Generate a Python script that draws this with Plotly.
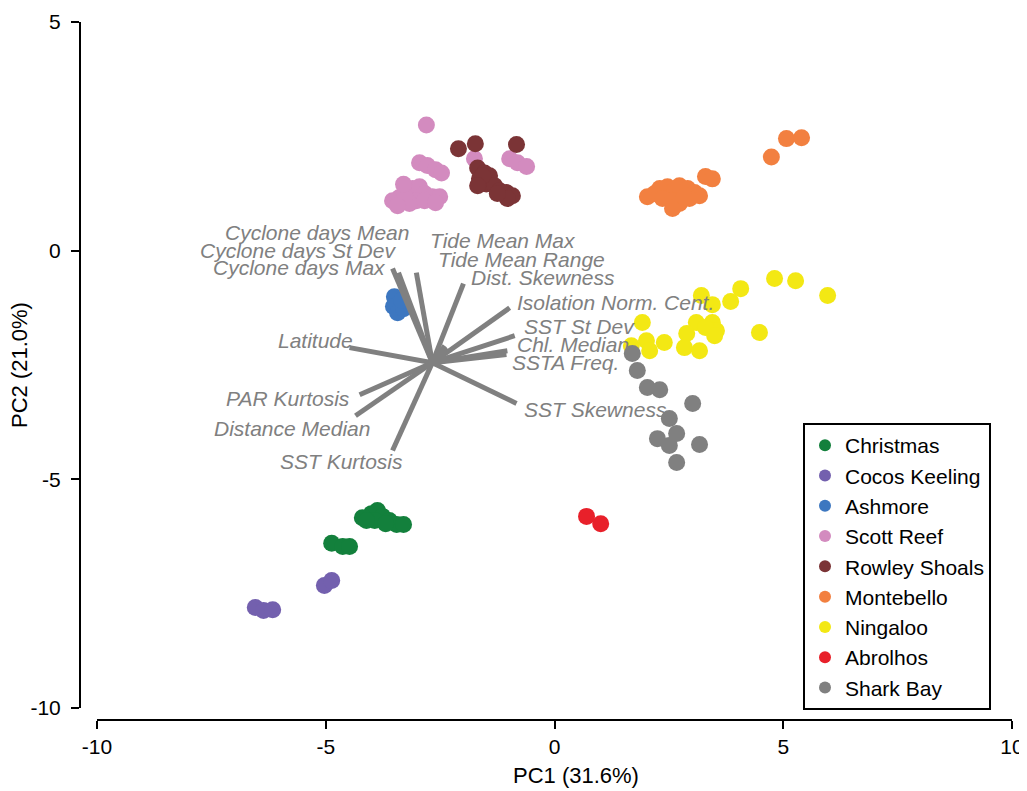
import plotly.graph_objects as go

# ---------------- data (PC scores) ----------------
sites = ["Christmas", "Cocos Keeling", "Ashmore", "Scott Reef", "Rowley Shoals",
         "Montebello", "Ningaloo", "Abrolhos", "Shark Bay"]
colors = ["#13803C", "#7360AE", "#3D77C0", "#D38BBF", "#7B3436",
          "#F28040", "#F3E814", "#E8202A", "#808080"]

christmas_x = [-4.20, -4.00, -3.87, -3.76, -3.61, -3.45, -3.30, -3.93, -3.69, -4.11, -4.87, -4.63, -4.48]
christmas_y = [-5.84, -5.75, -5.68, -5.81, -5.90, -5.99, -5.99, -5.90, -5.97, -5.90, -6.40, -6.47, -6.47]

cocos_x = [-5.03, -4.87, -6.54, -6.36, -6.16]
cocos_y = [-7.32, -7.21, -7.80, -7.87, -7.85]

ashmore_x = [-3.50, -3.52, -3.43, -3.30, -3.34]
ashmore_y = [-1.01, -1.22, -1.36, -1.27, -1.09]

scott_x = [-2.80, -2.95, -2.78, -2.60, -2.47, -3.54, -3.39, -3.23, -3.10, -2.95, -2.84, -2.67,
           -2.51, -3.02, -3.17, -3.28, -3.43, -2.84, -1.75, -0.98, -0.81, -0.61, -3.30, -2.60]
scott_y = [2.75, 1.92, 1.86, 1.77, 1.70, 1.09, 1.16, 1.27, 1.36, 1.40, 1.25, 1.18,
           1.18, 1.09, 1.03, 1.20, 0.98, 1.09, 2.01, 2.01, 1.92, 1.84, 1.45, 1.05]

rowley_x = [-2.10, -1.73, -0.83, -1.68, -1.53, -1.42, -1.64, -1.49, -1.31, -1.20, -1.05,
            -0.92, -1.03, -1.25, -1.57, -1.68]
rowley_y = [2.23, 2.34, 2.32, 1.81, 1.70, 1.64, 1.57, 1.46, 1.42, 1.31, 1.27,
            1.20, 1.14, 1.25, 1.64, 1.42]

montebello_x = [2.03, 2.19, 2.30, 2.47, 2.62, 2.73, 2.91, 3.06, 3.17, 2.36, 2.56, 2.73, 2.58,
                2.95, 2.84, 3.30, 3.45, 4.74, 5.07, 5.40]
montebello_y = [1.18, 1.25, 1.36, 1.40, 1.33, 1.42, 1.36, 1.27, 1.20, 1.14, 1.09, 1.03, 0.92,
                1.14, 1.18, 1.62, 1.57, 2.05, 2.45, 2.47]

ningaloo_x = [4.81, 5.27, 5.97, 4.07, 3.85, 3.21, 3.45, 1.92, 3.10, 3.45, 3.54, 4.48, 2.89,
              2.40, 2.01, 2.08, 2.84, 3.17, 1.68, 3.30, 3.50]
ningaloo_y = [-0.61, -0.66, -0.98, -0.83, -1.11, -0.98, -1.18, -1.57, -1.57, -1.57, -1.75, -1.79, -1.81,
              -2.01, -1.97, -2.19, -2.12, -2.19, -2.08, -1.68, -1.86]

abrolhos_x = [0.70, 1.01]
abrolhos_y = [-5.81, -5.97]

sharkbay_x = [1.70, 1.81, 2.03, 2.30, 3.02, 2.51, 2.67, 2.25, 2.51, 3.17, 2.67]
sharkbay_y = [-2.25, -2.62, -2.99, -3.04, -3.34, -3.67, -4.00, -4.11, -4.26, -4.24, -4.63]

site_x = [christmas_x, cocos_x, ashmore_x, scott_x, rowley_x, montebello_x, ningaloo_x, abrolhos_x, sharkbay_x]
site_y = [christmas_y, cocos_y, ashmore_y, scott_y, rowley_y, montebello_y, ningaloo_y, abrolhos_y, sharkbay_y]

# biplot vectors (origin and end points in PC space)
vec_origin = (-2.67, -2.45)
vec_names = ["Cyclone days Mean", "Cyclone days St Dev", "Cyclone days Max", "Tide Mean Max",
             "Tide Mean Range", "Dist. Skewness", "Isolation Norm. Cent.", "SST St Dev",
             "Chl. Median", "SSTA Freq.", "SST Skewness", "Latitude", "PAR Kurtosis",
             "Distance Median", "SST Kurtosis"]
vec_x = [-3.02, -3.41, -3.54, -2.40, -2.34, -1.99, -0.98, -0.87, -1.03, -1.05, -0.83, -4.48, -4.26, -4.35, -3.54]
vec_y = [-0.48, -0.48, -0.39, -2.08, -2.14, -0.72, -1.25, -1.86, -2.19, -2.27, -3.34, -2.12, -3.15, -3.61, -4.37]
# label anchor points
lab_x = [-3.13, -3.43, -3.65, -2.76, -2.60, -1.86, -0.87, -0.72, -0.87, -0.98, -0.72, -4.37, -4.42, -4.00, -3.27]
lab_y = [0.39, 0.00, -0.37, 0.22, -0.20, -0.59, -1.14, -1.66, -2.05, -2.45, -3.48, -1.97, -3.23, -3.89, -4.61]
lab_side = ["right", "right", "right", "left", "left", "left", "left", "left",
            "left", "left", "left", "right", "right", "right", "right"]

x_ticks = [-10, -5, 0, 5, 10]
x_tick_text = ["-10", "-5", "0", "5", "10"]
y_ticks = [-10, -5, 0, 5]
y_tick_text = ["-10", "-5", "0", "5"]

# ---------------- layout helpers (page has an 8px body margin) ----------------
W, H, OFF = 1027, 791, 8


def fx(px):
    return (px - OFF) / W


def fy(py):
    return 1 - (py - OFF) / H


# ---------------- figure ----------------
fig = go.Figure()
for name, col, xs, ys in zip(sites, colors, site_x, site_y):
    fig.add_trace(go.Scatter(x=xs, y=ys, mode="markers", name=name,
                             marker=dict(color=col, size=17, line=dict(width=0))))

lx, ly = [], []
for ex, ey in zip(vec_x, vec_y):
    lx += [vec_origin[0], ex, None]
    ly += [vec_origin[1], ey, None]
fig.add_trace(go.Scatter(x=lx, y=ly, mode="lines", showlegend=False, hoverinfo="skip",
                         line=dict(color="#808080", width=5)))

FONT = "Liberation Sans, Arial"
annos = []
for name, ax_, ay_, side in zip(vec_names, lab_x, lab_y, lab_side):
    annos.append(dict(x=ax_, y=ay_, xref="x", yref="y", text=name, showarrow=False,
                      xanchor=side, yanchor="middle",
                      font=dict(family=FONT, size=21, color="#808080", style="italic")))
annos.append(dict(x=fx(576), y=fy(775), xref="paper", yref="paper", text="PC1 (31.6%)",
                  showarrow=False, xanchor="center", yanchor="middle",
                  font=dict(family=FONT, size=22, color="black")))
annos.append(dict(x=fx(19), y=fy(365), xref="paper", yref="paper", text="PC2 (21.0%)",
                  showarrow=False, xanchor="center", yanchor="middle", textangle=-90,
                  font=dict(family=FONT, size=22, color="black")))

fig.update_layout(
    width=W, height=H,
    margin=dict(l=0, r=0, t=0, b=0),
    paper_bgcolor="white", plot_bgcolor="white",
    font=dict(family=FONT, color="black"),
    annotations=annos,
    xaxis=dict(range=[-10, 10], domain=[fx(97), fx(1012)], anchor="free",
               position=fy(720), showgrid=False, zeroline=False,
               showline=True, linecolor="black", linewidth=2,
               ticks="outside", ticklen=8, tickwidth=2, tickcolor="black",
               tickvals=x_ticks, ticktext=x_tick_text, tickfont=dict(size=21), automargin=False),
    yaxis=dict(range=[-10, 5], domain=[fy(708), fy(22)], anchor="free",
               position=fx(80), showgrid=False, zeroline=False,
               showline=True, linecolor="black", linewidth=2,
               ticks="outside", ticklen=8, tickwidth=2, tickcolor="black",
               tickvals=y_ticks, ticktext=y_tick_text, tickfont=dict(size=21), ticklabelstandoff=6,
               automargin=False),
    legend=dict(x=fx(803), y=fy(423), xanchor="left", yanchor="top",
                bgcolor="white", bordercolor="black", borderwidth=2,
                font=dict(size=21, color="black"), itemsizing="constant",
                entrywidth=165, entrywidthmode="pixels",
                tracegroupgap=0),
    showlegend=True,
)

fig.write_html("out.html")
